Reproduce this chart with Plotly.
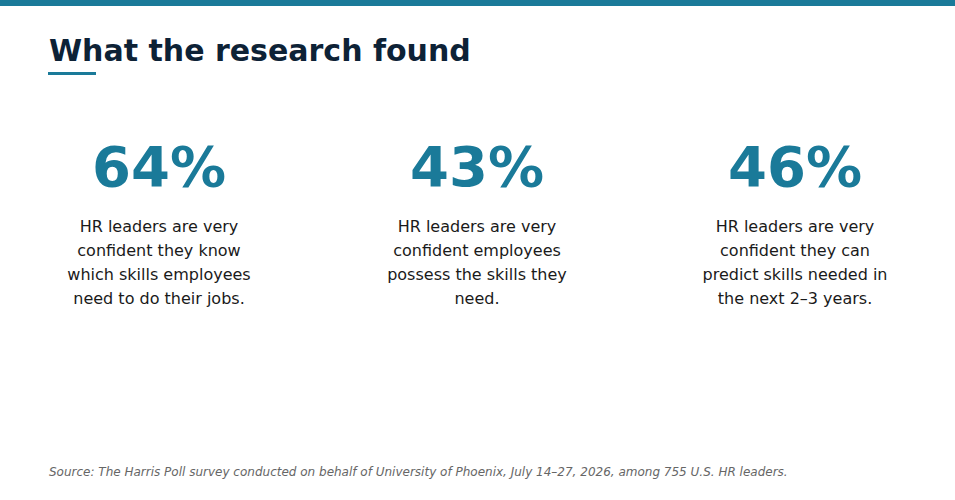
import plotly.graph_objects as go

TITLE = "What the research found"
values = ["64%", "43%", "46%"]
descriptions = [
    ["HR leaders are very", "confident they know", "which skills employees", "need to do their jobs."],
    ["HR leaders are very", "confident employees", "possess the skills they", "need."],
    ["HR leaders are very", "confident they can", "predict skills needed in", "the next 2\u20133 years."],
]
SOURCE = ("Source: The Harris Poll survey conducted on behalf of University of Phoenix, "
          "July 14\u201327, 2026, among 755 U.S. HR leaders.")

TEAL = "#1a7a99"
NAVY = "#0d2236"
FONT = "DejaVu Sans"

col_x = [159, 477, 795]

fig = go.Figure()

# big numbers
fig.add_trace(go.Scatter(
    x=col_x, y=[172] * 3, mode="text", text=values,
    textfont=dict(family=FONT, size=56, color=TEAL),
    texttemplate="<b>%{text}</b>", hoverinfo="skip",
))

# description lines
lx, ly, lt = [], [], []
for cx, lines in zip(col_x, descriptions):
    for i, line in enumerate(lines):
        lx.append(cx)
        ly.append(228 + i * 24)
        lt.append(line)
fig.add_trace(go.Scatter(
    x=lx, y=ly, mode="text", text=lt,
    textfont=dict(family=FONT, size=16, color="#1a1a1a"), hoverinfo="skip",
))

fig.add_shape(type="rect", xref="paper", yref="paper", x0=0, x1=1, y0=1, y1=1 - 6 / 500,
              fillcolor=TEAL, line_width=0)
fig.add_shape(type="line", x0=48, x1=96, y0=73.5, y1=73.5, line=dict(color=TEAL, width=3))

fig.add_annotation(x=47, y=50, text=f"<b>{TITLE}</b>", showarrow=False, xanchor="left",
                   font=dict(family=FONT, size=30, color=NAVY))
fig.add_annotation(x=47, y=472, text=f"<i>{SOURCE}</i>", showarrow=False, xanchor="left",
                   font=dict(family=FONT, size=12, color="#666666"))

fig.update_layout(
    width=955, height=500, margin=dict(l=0, r=0, t=0, b=0),
    paper_bgcolor="white", plot_bgcolor="white", showlegend=False,
    xaxis=dict(range=[0, 955], visible=False, fixedrange=True),
    yaxis=dict(range=[500, 0], visible=False, fixedrange=True),
)

fig.write_html("out.html", config={"displayModeBar": False},
               post_script="document.body.style.margin='0';document.body.style.overflow='hidden';")
